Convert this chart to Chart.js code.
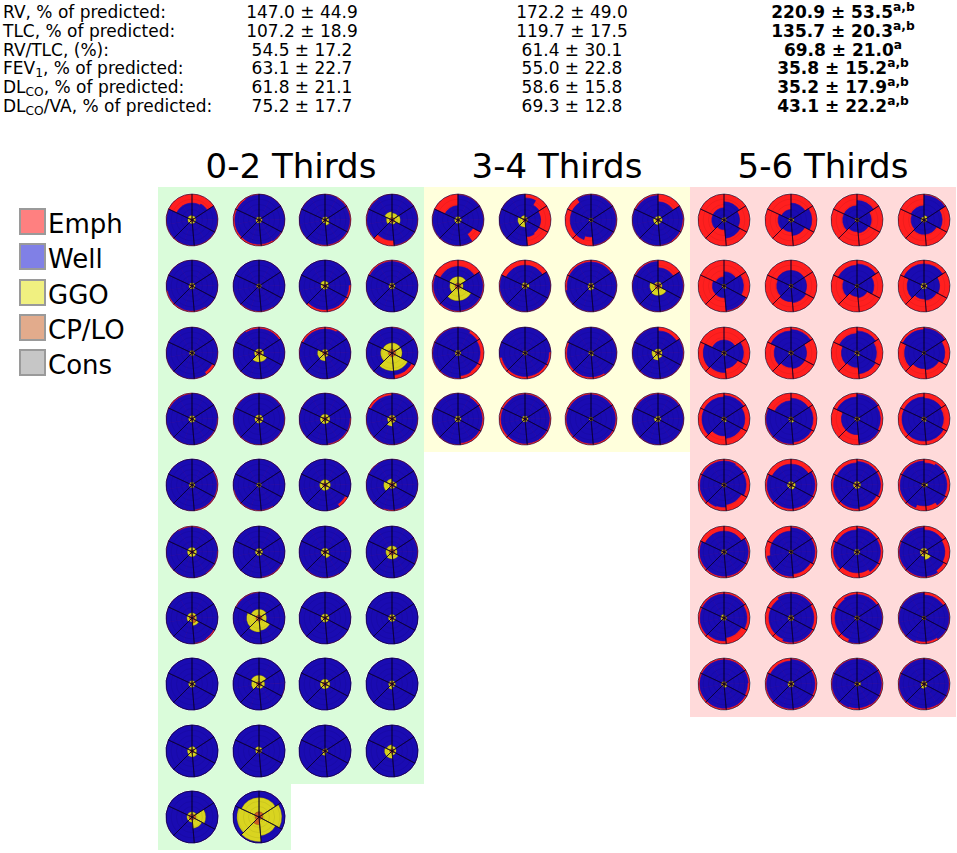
<!DOCTYPE html>
<html lang="en">
<head>
<meta charset="UTF-8">
<title>Lung thirds</title>
<script src="https://cdn.jsdelivr.net/npm/chart.js"></script>
<style>
    body {
        margin: 0;
        width: 957px;
        height: 853px;
        position: relative;
        overflow: hidden;
        background: #fff;
        font-family: "DejaVu Sans", sans-serif;
        color: #000;
    }
    .cell {
        position: absolute;
        font-size: 17px;
        line-height: 18.7px;
        white-space: nowrap;
    }
    .num { width: 260px; text-align: center; }
    .bold { font-weight: bold; }
    sub { font-size: 0.72em; vertical-align: -0.22em; line-height: 0; }
    sup { font-size: 0.72em; vertical-align: 0.55em; line-height: 0; font-weight: bold; }
    .title {
        position: absolute;
        width: 266px;
        text-align: center;
        font-size: 34px;
        line-height: 38px;
        white-space: nowrap;
    }
    .panel { position: absolute; }
    .swatch {
        position: absolute;
        width: 27px;
        height: 27px;
        box-sizing: border-box;
        border: 2px solid #9a9a9a;
    }
    .legtext {
        position: absolute;
        font-size: 26px;
        line-height: 30px;
    }
    canvas { position: absolute; }
</style>
</head>
<body>

<script>
// ---- table above the glyphs ----
const rowLabels = ['RV, % of predicted:', 'TLC, % of predicted:', 'RV/TLC, (%):',
    'FEV<sub>1</sub>, % of predicted:', 'DL<sub>CO</sub>, % of predicted:', 'DL<sub>CO</sub>/VA, % of predicted:'];
const colA = ['147.0 ± 44.9', '107.2 ± 18.9', '54.5 ± 17.2', '63.1 ± 22.7', '61.8 ± 21.1', '75.2 ± 17.7'];
const colB = ['172.2 ± 49.0', '119.7 ± 17.5', '61.4 ± 30.1', '55.0 ± 22.8', '58.6 ± 15.8', '69.3 ± 12.8'];
const colC = ['220.9 ± 53.5', '135.7 ± 20.3', '69.8 ± 21.0', '35.8 ± 15.2', '35.2 ± 17.9', '43.1 ± 22.2'];
const supC = ['a,b', 'a,b', 'a', 'a,b', 'a,b', 'a,b'];

// ---- legend / groups ----
const categories = ['Emph', 'Well', 'GGO', 'CP/LO', 'Cons'];
const groupTitles = ['0-2 Thirds', '3-4 Thirds', '5-6 Thirds'];

// angular width of the six lung sectors, clockwise from the top (degrees)
const sectorDeg = [57, 61, 57, 50, 70, 65];

// per glyph: emphysema rim thickness (12 half-sectors, 6 sectors or one value),
// GGO thickness and CP/LO radius (6 sectors or one value), fractions of the radius
const emphA = [
    [.35,.3,.03,.03,.03,.03,.03,.03,.03,.03,.35,.35],
    [.02,.02,.02,.02,.04,.07,.07,.07,.07,.07,.07,.04],
    [.03,.05,.05,.05,.05,.05,.05,.02,.02,.02,.02,.02],
    [.02,.03,.03,.03,.03,.04,.22,.22,.04,.04,.04,.02],
    [.02,.02,.02,.02,.02,.05,.05,.05,.05,.02,.02,.02],
    [.01,.01,.01,.01,.02,.04,.04,.04,.02,.01,.01,.01],
    [.01,.01,.02,.09,.09,.09,.09,.09,.02,.01,.01,.01],
    [.06,.06,.02,.02,.01,.01,.01,.01,.02,.02,.06,.06],
    [.02,.02,.02,.03,.12,.03,.02,.02,.02,.02,.02,.02],
    [.07,.07,.02,.02,.02,.02,.02,.02,.02,.02,.03,.07],
    [.08,.03,.02,.02,.02,.02,.02,.02,.02,.03,.08,.08],
    [.04,.04,.02,.02,.15,.15,.02,.02,.02,.02,.02,.02],
    [.02,.02,.02,.04,.04,.02,.02,.02,.02,.02,.05,.05],
    .03,
    [.02,.02,.02,.05,.05,.05,.02,.02,.02,.02,.02,.02],
    [.03,.03,.03,.03,.03,.03,.03,.03,.03,.03,.1,.1],
    [.01,.01,.05,.05,.05,.05,.02,.01,.01,.01,.01,.01],
    [.01,.01,.01,.01,.01,.04,.04,.04,.04,.01,.01,.01],
    [.01,.01,.01,.01,.12,.02,.01,.01,.01,.01,.01,.01],
    [.02,.02,.02,.02,.02,.05,.05,.02,.02,.02,.03,.02],
    [.05,.02,.02,.04,.04,.02,.02,.02,.02,.02,.02,.05],
    [.01,.01,.01,.01,.04,.04,.01,.01,.01,.01,.01,.01],
    [.01,.01,.01,.01,.01,.03,.03,.03,.01,.01,.01,.01],
    [.01,.01,.03,.03,.02,.01,.01,.01,.01,.01,.01,.01],
    [.01,.01,.01,.01,.06,.04,.01,.01,.01,.01,.01,.01],
    [.01,.01,.01,.01,.01,.01,.01,.01,.01,.01,.04,.04],
    .01, 0, 0,
    [0,0,0,.02,0,0,0,0,0,0,0,0],
    0, 0, 0, 0, 0, 0, 0, 0
];
const ggoA = [
    [.08,.06,.06,.06,.08,.1], .05, [.06,.08,.14,.05,.05,.05], [.17,.22,.07,.03,.12,.22],
    .05, .03, [.1,.05,.05,.05,.08,.12], .05,
    .04, [.06,.08,.25,.25,.08,.06], [.05,.03,.06,.22,.2,.05], [.25,.25,.55,.55,.3,.25],
    .06, .07, .1, [.05,.05,.05,.18,.08,.05],
    .05, .04, .12, [.04,.08,.04,.04,.22,.14],
    .1, .07, [.07,.07,.15,.07,.07,.07], [.12,.08,.16,.16,.12,.12],
    [.08,.06,.1,.05,.1,.08], [.22,.17,.36,.42,.36,.22], .08, .06,
    .06, [.24,.12,.09,.05,.19,.24], .1, [.05,.05,.05,.12,.05,.05],
    [.1,.1,.15,.15,.1,.08], [.08,.03,.02,.02,.06,.1], [.04,.04,.02,.1,.03,.02], [.1,.07,.07,.2,.2,.15],
    [.08,.38,.32,.08,.08,.08], [.55,.73,.6,.65,.7,.55]
];
const cploA = [
    .08, .07, .07, .1,
    .07, .06, .08, .07,
    .06, .1, .09, .14,
    .07, .09, .09, .1,
    .06, .05, .09, .1,
    .08, .07, .08, .12,
    [.12,.12,.2,.1,.1,.12], .12, .08, .08,
    .07, .1, .09, .08,
    .08, .07, .07, .09,
    [.12,.15,.12,.12,.12,.12], [.2,.15,.12,.3,.15,.2]
];

const emphB = [
    [.04,.03,.03,.03,.35,.03,.03,.03,.03,.03,.45,.45],
    [.15,.35,.4,.4,.4,.35,.02,.02,.02,.02,.02,.02],
    [.04,.04,.04,.04,.04,.04,.35,.2,.2,.2,.2,.04],
    [.3,.3,.04,.06,.06,.04,.03,.03,.03,.03,.06,.06],
    [.25,.25,.05,.05,.05,.05,.05,.06,.06,.06,.25,.25],
    [.2,.2,.03,.03,.03,.03,.03,.04,.04,.04,.2,.2],
    [.08,.08,.03,.03,.03,.03,.03,.03,.03,.08,.08,.08],
    [.3,.3,.04,.04,.03,.03,.03,.03,.03,.03,.06,.06],
    [.04,.12,.15,.15,.15,.12,.04,.04,.04,.04,.04,.04],
    [.02,.02,.02,.08,.1,.1,.1,.1,.1,.02,.02,.02],
    [.03,.03,.03,.03,.03,.08,.08,.08,.08,.08,.03,.03],
    [.15,.15,.04,.04,.03,.03,.03,.03,.03,.03,.03,.03],
    [.03,.07,.07,.07,.07,.07,.03,.03,.03,.03,.03,.03],
    [.06,.06,.06,.06,.06,.06,.06,.08,.08,.08,.08,.06],
    .06,
    [.05,.05,.03,.03,.03,.03,.03,.03,.03,.03,.05,.05]
];
const ggoB = [
    .06, [.04,.02,.02,.2,.2,.1], .03, [.08,.08,.06,.1,.1,.06],
    [.25,.08,.45,.45,.2,.25], [.04,.08,.03,.03,.04,.06], [.04,.04,.06,.08,.04,.04], [.04,.04,.25,.25,.2,.04],
    .04, .03, [.03,.03,.07,.03,.03,.03], [.06,.06,.1,.18,.14,.06],
    .05, .05, .03, [.06,.05,.05,.05,.08,.05]
];
const cploB = [
    .07, .08, .05, .08,
    .12, .08, .08, .12,
    .07, .06, .06, .1,
    .07, .07, .05, .06
];

const emphC = [
    [.3,.4,.3,.63,.53,.53], [.35,.2,.4,.55,.5,.6], [.25,.45,.5,.55,.45,.45], [.05,.3,.45,.45,.5,.45],
    [.45,.25,.05,.55,.55,.65], [.4,.4,.35,.4,.45,.4], [.15,.35,.55,.6,.45,.2], [.15,.4,.45,.5,.35,.15],
    [.5,.25,.4,.25,.2,.5], [.1,.4,.4,.45,.35,.15], [.15,.25,.2,.45,.4,.25], [.05,.2,.35,.4,.25,.1],
    [.1,.2,.25,.35,.15,.15], [.2,.15,.1,.05,.05,.3], [.05,.1,.05,.4,.4,.15], [.2,.25,.15,.15,.15,.15],
    [.08,.12,.15,.15,.25,.25,.15,.12,.08,.08,.08,.08],
    [.2,.2,.08,.08,.08,.1,.1,.1,.08,.08,.2,.2],
    [.1,.1,.1,.1,.15,.15,.1,.1,.1,.1,.15,.15],
    [.15,.08,.12,.12,.08,.2,.2,.08,.08,.08,.08,.08],
    [.2,.2,.07,.07,.07,.07,.07,.07,.07,.07,.2,.2],
    [.07,.07,.08,.08,.15,.15,.07,.07,.07,.2,.2,.2],
    [.1,.1,.1,.1,.1,.2,.2,.2,.1,.1,.15,.15],
    [.15,.15,.2,.2,.15,.06,.06,.06,.06,.06,.06,.06],
    [.08,.08,.12,.12,.25,.25,.12,.12,.08,.08,.08,.08],
    [.07,.07,.12,.12,.07,.07,.07,.15,.15,.15,.15,.07],
    [.1,.1,.04,.04,.04,.04,.04,.15,.15,.15,.15,.1],
    [.12,.12,.04,.04,.04,.1,.1,.04,.04,.04,.04,.04],
    [.07,.07,.07,.1,.07,.07,.07,.07,.07,.07,.07,.07],
    [.06,.06,.08,.08,.06,.06,.06,.06,.06,.06,.12,.12],
    [.05,.05,.06,.06,.05,.08,.08,.05,.05,.05,.05,.05],
    [.05,.05,.05,.05,.05,.07,.07,.07,.05,.05,.05,.05]
];
const ggoC = [
    [.04,.02,.02,.02,.02,.02], [.02,.04,.02,.02,.02,.02], .02, [.1,.04,.02,.02,.04,.05],
    [.02,.02,.05,.03,.02,.02], .02, .02, .05,
    [.02,.02,.04,.02,.02,.02], .02, [.02,.02,.06,.02,.02,.02], .02,
    [.02,.02,.06,.02,.02,.02], [.02,.02,.07,.04,.02,.02], [.02,.04,.02,.02,.02,.02], [.02,.02,.05,.02,.02,.02],
    [.02,.02,.02,.02,.02,.02], [.04,.08,.08,.04,.05,.05], .05, [.02,.07,.02,.02,.02,.02],
    .03, .02, .04, [.05,.05,.2,.07,.05,.05],
    [.03,.03,.03,.03,.05,.07], .03, .02, .02,
    [.03,.03,.07,.03,.03,.03], .04, [.02,.07,.02,.02,.02,.02], [.04,.04,.06,.09,.04,.04]
];
const cploC = [
    .07, .07, .06, .07,
    .06, .06, .05, .07,
    .07, .07, .07, .05,
    .07, .07, .07, .07,
    .07, .09, .09, .07,
    .07, .06, .07, .1,
    .07, .08, .07, .06,
    .07, .08, .07, .08
];

const groups = [
    { emph: emphA, ggo: ggoA, cplo: cploA },
    { emph: emphB, ggo: ggoB, cplo: cploB },
    { emph: emphC, ggo: ggoC, cplo: cploC }
];

// ---- colours ----
const glyphColors = { emph: '#ff1f1f', well: '#1a0bb2', ggo: '#d9d420', cplo: '#cf5e24' };
const legendColors = ['#ff8080', '#8080e6', '#f0f080', '#e2ab8c', '#c6c6c6'];
const panelColors = ['#dafcda', '#ffffdc', '#ffdada'];

// layout of the glyph grid
const gridLeft = 159, gridTop = 187, cellW = 66.5, cellH = 66.3, perRow = 4;

function el(tag, cls, html, css) {
    const d = document.createElement(tag);
    if (cls) d.className = cls;
    if (html !== undefined) d.innerHTML = html;
    Object.assign(d.style, css || {});
    document.body.appendChild(d);
    return d;
}

// table
rowLabels.forEach((lab, i) => {
    const top = (3.1 + i * 18.7) + 'px';
    el('div', 'cell', lab, { left: '3px', top: top });
    el('div', 'cell num', colA[i], { left: (302 - 130) + 'px', top: top });
    el('div', 'cell num', colB[i], { left: (572 - 130) + 'px', top: top });
    el('div', 'cell num bold', colC[i] + '<sup>' + supC[i] + '</sup>', { left: (843 - 130) + 'px', top: top });
});

// legend
categories.forEach((name, i) => {
    el('div', 'swatch', undefined, { left: '19px', top: (208 + i * 35.3) + 'px', background: legendColors[i] });
    el('div', 'legtext', name, { left: '48px', top: (209 + i * 35.3) + 'px' });
});

const halfDeg = sectorDeg.flatMap(d => [d / 2, d / 2]);
const perSector = v => Array.isArray(v) ? v : sectorDeg.map(() => v);
const anglesFor = arr => arr.length === 12 ? halfDeg : sectorDeg;

function drawGlyph(canvas, emph, ggo, cplo) {
    const em = perSector(emph);
    const gg = perSector(ggo);
    const cp = perSector(cplo);
    const emAngles = anglesFor(em);

    new Chart(canvas, {
        type: 'polarArea',
        data: {
            datasets: [
                {   // sector dividers
                    data: sectorDeg.map(() => 1),
                    angle: c => sectorDeg[c.dataIndex],
                    backgroundColor: 'rgba(0,0,0,0)',
                    borderColor: 'rgba(8,0,40,0.85)',
                    borderWidth: 0.7
                },
                {   // CP/LO (inner core)
                    data: cp,
                    angle: c => sectorDeg[c.dataIndex],
                    backgroundColor: glyphColors.cplo,
                    borderColor: 'rgba(60,20,0,0.6)',
                    borderWidth: 0.4
                },
                {   // GGO stacked on CP/LO
                    data: cp.map((v, i) => v + gg[i]),
                    angle: c => sectorDeg[c.dataIndex],
                    backgroundColor: glyphColors.ggo,
                    borderColor: 'rgba(80,70,0,0.6)',
                    borderWidth: 0.5
                },
                {   // well aerated, up to the emphysema rim
                    data: em.map(v => 1 - v),
                    angle: c => emAngles[c.dataIndex],
                    backgroundColor: glyphColors.well,
                    borderColor: glyphColors.well,
                    borderWidth: 0.6
                },
                {   // emphysema fills the rest of the disc
                    data: [1],
                    backgroundColor: glyphColors.emph,
                    borderWidth: 0
                },
                {   // light halo round the disc
                    data: [1],
                    backgroundColor: 'rgba(0,0,0,0)',
                    borderColor: '#ffffff',
                    borderWidth: 1.6
                }
            ]
        },
        options: {
            responsive: false,
            animation: false,
            events: [],
            layout: { padding: 2 },
            plugins: { legend: { display: false }, tooltip: { enabled: false } },
            scales: {
                r: {
                    min: 0,
                    max: 1,
                    ticks: { display: false, stepSize: 0.2 },
                    grid: { color: 'rgba(0,0,0,0.1)', lineWidth: 0.6, z: 1 },
                    angleLines: { display: false },
                    pointLabels: { display: false }
                }
            }
        }
    });
}

groups.forEach((g, gi) => {
    const x0 = gridLeft + gi * cellW * perRow;
    const n = g.emph.length;
    const fullRows = Math.floor(n / perRow);
    const rest = n % perRow;

    el('div', 'panel', undefined, {
        left: (x0 - 1) + 'px', top: gridTop + 'px',
        width: (cellW * perRow) + 'px', height: (cellH * fullRows) + 'px',
        background: panelColors[gi]
    });
    if (rest) {
        el('div', 'panel', undefined, {
            left: (x0 - 1) + 'px', top: (gridTop + cellH * fullRows) + 'px',
            width: (cellW * rest) + 'px', height: cellH + 'px',
            background: panelColors[gi]
        });
    }
    el('div', 'title', groupTitles[gi], { left: (x0 - 1) + 'px', top: '147.3px' });

    for (let k = 0; k < n; k++) {
        const cx = x0 + cellW * (k % perRow + 0.5);
        const cy = gridTop + cellH * (Math.floor(k / perRow) + 0.5);
        const cv = document.createElement('canvas');
        cv.width = 56;
        cv.height = 56;
        cv.style.left = (cx - 28) + 'px';
        cv.style.top = (cy - 28) + 'px';
        document.body.appendChild(cv);
        drawGlyph(cv, g.emph[k], g.ggo[k], g.cplo[k]);
    }
});
</script>

</body>
</html>
